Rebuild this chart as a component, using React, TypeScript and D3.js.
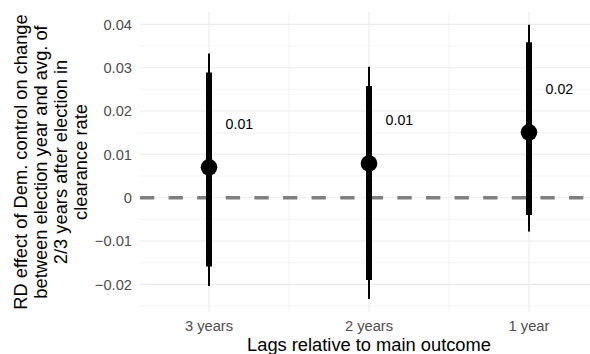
import React from "react";
import * as d3 from "d3";

const categories = ["3 years", "2 years", "1 year"];
const estimates = [0.007, 0.0079, 0.0151];
const ci90Low = [-0.0159, -0.019, -0.004];
const ci90High = [0.0289, 0.0258, 0.0359];
const ci95Low = [-0.0204, -0.0234, -0.0078];
const ci95High = [0.0333, 0.0302, 0.0399];

const yTicks = [-0.02, -0.01, 0, 0.01, 0.02, 0.03, 0.04];
const yTickLabels = ["\u22120.02", "\u22120.01", "0", "0.01", "0.02", "0.03", "0.04"];
const yMinor = [-0.025, -0.015, -0.005, 0.005, 0.015, 0.025, 0.035];

const yTitle = [
  "RD effect of Dem. control on change",
  "between election year and avg. of",
  "2/3 years after election in",
  "clearance rate",
];

const W = 590;
const H = 354;
const PANEL = { left: 140, right: 598, top: 12, bottom: 312 };
const FONT = "'Liberation Sans', Arial, Helvetica, sans-serif";
const GRID = "#EBEBEB";

const App = () => {
  const x = d3
    .scalePoint<string>()
    .domain(categories)
    .range([PANEL.left, PANEL.right])
    .padding(0.43125);
  const step = x.step();

  const y = d3
    .scaleLinear()
    .domain([-0.02638, 0.04286])
    .range([PANEL.bottom, PANEL.top]);

  const fmt = d3.format(".2f");

  // minor vertical lines halfway between the categories
  const xMinor = categories.slice(1).map((c, i) => (x(categories[i])! + x(c)!) / 2);

  const yMid = (PANEL.top + PANEL.bottom) / 2;

  return (
    <svg
      width={W}
      height={H}
      style={{ position: "absolute", left: 0, top: 0, background: "#fff" }}
      fontFamily={FONT}
    >
      <defs>
        <clipPath id="panel">
          <rect x={PANEL.left} y={PANEL.top} width={PANEL.right - PANEL.left} height={PANEL.bottom - PANEL.top} />
        </clipPath>
      </defs>

      {/* grid */}
      <g clipPath="url(#panel)">
        {yMinor.map((t) => (
          <line key={"ym" + t} x1={PANEL.left} x2={PANEL.right} y1={y(t)} y2={y(t)} stroke={GRID} strokeWidth={0.6} />
        ))}
        {xMinor.map((px, i) => (
          <line key={"xm" + i} x1={px} x2={px} y1={PANEL.top} y2={PANEL.bottom} stroke={GRID} strokeWidth={0.6} />
        ))}
        {yTicks.map((t) => (
          <line key={"y" + t} x1={PANEL.left} x2={PANEL.right} y1={y(t)} y2={y(t)} stroke={GRID} strokeWidth={1.1} />
        ))}
        {categories.map((c) => (
          <line key={"x" + c} x1={x(c)} x2={x(c)} y1={PANEL.top} y2={PANEL.bottom} stroke={GRID} strokeWidth={1.1} />
        ))}

        {/* zero reference */}
        <line
          x1={PANEL.left}
          x2={PANEL.right}
          y1={y(0)}
          y2={y(0)}
          stroke="#7F7F7F"
          strokeWidth={3.6}
          strokeDasharray="14.3 14.3"
        />
      </g>

      {/* estimates with intervals */}
      {categories.map((c, i) => (
        <g key={c}>
          <line x1={x(c)} x2={x(c)} y1={y(ci95Low[i])} y2={y(ci95High[i])} stroke="#000" strokeWidth={2} />
          <line x1={x(c)} x2={x(c)} y1={y(ci90Low[i])} y2={y(ci90High[i])} stroke="#000" strokeWidth={6} />
          <circle cx={x(c)} cy={y(estimates[i])} r={8.3} fill="#000" />
          <text
            x={x(c)! + step * 0.19}
            y={y(estimates[i] + 0.01)}
            dy="0.36em"
            textAnchor="middle"
            fontSize={14.2}
            fill="#000"
          >
            {fmt(estimates[i])}
          </text>
        </g>
      ))}

      {/* y axis labels */}
      {yTicks.map((t, i) => (
        <text key={"yl" + t} x={132} y={y(t)} dy="0.36em" textAnchor="end" fontSize={14.7} fill="#4D4D4D">
          {yTickLabels[i]}
        </text>
      ))}

      {/* x axis labels */}
      {categories.map((c) => (
        <text key={"xl" + c} x={x(c)} y={330.5} textAnchor="middle" fontSize={14.7} fill="#4D4D4D">
          {c}
        </text>
      ))}

      <text x={x(categories[1])} y={351} textAnchor="middle" fontSize={18.3} fill="#000">
        Lags relative to main outcome
      </text>

      <text transform={`translate(0,${yMid}) rotate(-90)`} textAnchor="middle" fontSize={18.3} fill="#000">
        {yTitle.map((line, i) => (
          <tspan key={i} x={0} y={27.3 + i * 19.9}>
            {line}
          </tspan>
        ))}
      </text>
    </svg>
  );
};

export default App;
